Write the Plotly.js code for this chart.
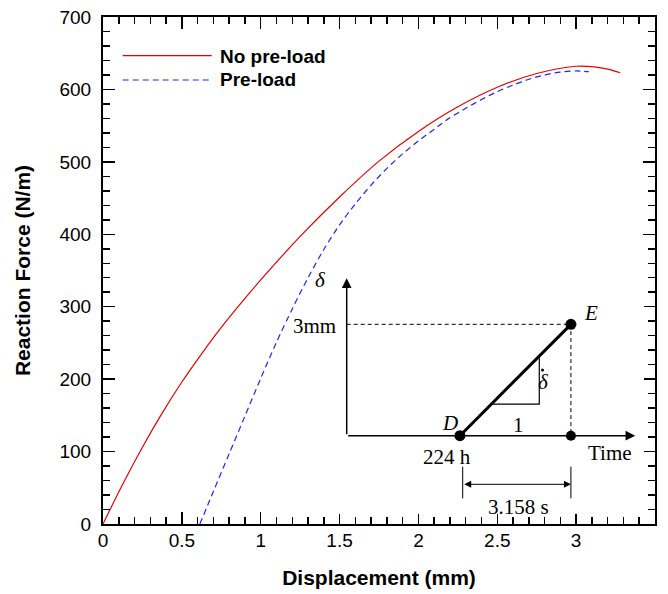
<!DOCTYPE html>
<html>
<head>
<meta charset="utf-8">
<script src="https://cdn.plot.ly/plotly-3.0.1.min.js"></script>
<style>html,body{margin:0;padding:0;background:#fff;}#chart{width:668px;height:594px;}</style>
</head>
<body>
<div id="chart"></div>
<script>
// ---- main chart data ----
const seriesNames = ["No pre-load", "Pre-load"];
const noPreloadX = [0,0.125,0.25,0.375,0.5,0.625,0.75,0.875,1.0,1.25,1.5,1.75,2.0,2.25,2.5,2.75,3.0,3.1,3.2,3.28];
const noPreloadY = [0,55,106,153,196,235,271.5,305,337,397,451.5,501,542,576,603,622,632,631.5,628,623];
const preloadX = [0.614,0.7,0.8,0.9,1.0,1.1,1.2,1.3,1.4,1.5,1.6,1.7,1.8,1.9,2.0,2.1,2.2,2.3,2.4,2.5,2.6,2.7,2.8,2.9,3.0,3.08];
const preloadY = [0,45,97,149,201,251,297,340,379,413,442,468,491,511,529,545,561,574,586,597,606,614,620,624,625.5,624.5];
const xTickVals = [0,0.5,1,1.5,2,2.5,3,3.5];
const yTickVals = [0,100,200,300,400,500,600,700];

// ---- inset schematic data (own axes: time units, delta in mm) ----
const insetDE_T = [1.02, 2.02];      // D, E times
const insetDE_D = [0, 3];            // delta at D, E (mm)
const insetFoot_T = [2.02];          // point below E
const insetFoot_D = [0];
const insetSlopeT = [1.303, 1.735, 1.735];
const insetSlopeD = [0.85, 0.85, 2.145];
const insetDotT = [1.764], insetDotD = [1.769];   // dot of delta-dot
const insetAxisT = 2.6, insetAxisD = 4.24;
const insetDimY = -1.309, insetDimY0 = -0.835, insetDimY1 = -1.686, insetDimT0 = 1.045;
const insetLabels = [
  {t:-0.24, d:4.2, text:"δ", italic:true, anchor:"center"},
  {t:-0.076, d:2.95, text:"3mm", italic:false, anchor:"right"},
  {t:0.93, d:0.334, text:"D", italic:true, anchor:"center"},
  {t:0.90, d:-0.566, text:"224 h", italic:false, anchor:"center"},
  {t:2.198, d:3.297, text:"E", italic:true, anchor:"center"},
  {t:1.777, d:1.45, text:"δ", italic:true, anchor:"center"},
  {t:1.546, d:0.288, text:"1", italic:false, anchor:"center"},
  {t:2.372, d:-0.474, text:"Time", italic:false, anchor:"center"},
  {t:1.546, d:-1.912, text:"3.158 s", italic:false, anchor:"center"}
];

const sans = "Liberation Sans, Arial, sans-serif";
const serif = "Liberation Serif, Times New Roman, serif";
const seriesColors = ["#e60000", "#2222ff"];

const traces = [
  {x: noPreloadX, y: noPreloadY, name: seriesNames[0], type: "scatter", mode: "lines",
   line: {color: seriesColors[0], width: 1.2, shape: "spline", smoothing: 1}, showlegend: false, xaxis: "x", yaxis: "y"},
  {x: preloadX, y: preloadY, name: seriesNames[1], type: "scatter", mode: "lines",
   line: {color: seriesColors[1], width: 1.2, dash: "6px,4px", shape: "spline", smoothing: 0.8}, showlegend: false, xaxis: "x", yaxis: "y"},
  // inset
  {x: insetSlopeT, y: insetSlopeD, mode: "lines", line: {color: "black", width: 1.2},
   xaxis: "x2", yaxis: "y2", showlegend: false, hoverinfo: "skip"},
  {x: [0, insetDE_T[1], insetDE_T[1]], y: [insetDE_D[1], insetDE_D[1], insetFoot_D[0]], mode: "lines",
   line: {color: "black", width: 1, dash: "4px,3px"}, xaxis: "x2", yaxis: "y2", showlegend: false, hoverinfo: "skip"},
  {x: insetDE_T, y: insetDE_D, mode: "lines+markers", line: {color: "black", width: 3},
   marker: {color: "black", size: 11}, xaxis: "x2", yaxis: "y2", showlegend: false, hoverinfo: "skip"},
  {x: insetFoot_T, y: insetFoot_D, mode: "markers", marker: {color: "black", size: 10},
   xaxis: "x2", yaxis: "y2", showlegend: false, hoverinfo: "skip"},
  {x: insetDotT, y: insetDotD, mode: "markers", marker: {color: "black", size: 3},
   xaxis: "x2", yaxis: "y2", showlegend: false, hoverinfo: "skip"}
];

const shapes = [
  // inset extension lines
  {type: "line", xref: "x2", yref: "y2", x0: insetDimT0, x1: insetDimT0, y0: insetDimY0, y1: insetDimY1, line: {color: "black", width: 1}},
  {type: "line", xref: "x2", yref: "y2", x0: insetDE_T[1], x1: insetDE_T[1], y0: insetDimY0, y1: insetDimY1, line: {color: "black", width: 1}},
  // legend lines
  {type: "line", xref: "paper", yref: "paper", x0: 0.0357, x1: 0.1969, y0: 0.9237, y1: 0.9237, line: {color: seriesColors[0], width: 1.2}},
  {type: "line", xref: "paper", yref: "paper", x0: 0.0357, x1: 0.1969, y0: 0.8757, y1: 0.8757, line: {color: seriesColors[1], width: 1.2, dash: "6px,4px"}}
];

const annotations = [
  // inset axes arrows
  {xref: "x2", yref: "y2", axref: "x2", ayref: "y2", x: 0, y: insetAxisD, ax: 0, ay: 0, text: "", showarrow: true,
   arrowhead: 2, arrowsize: 1.3, arrowwidth: 1.5, arrowcolor: "black", standoff: 0, startstandoff: 0},
  {xref: "x2", yref: "y2", axref: "x2", ayref: "y2", x: insetAxisT, y: 0, ax: 0, ay: 0, text: "", showarrow: true,
   arrowhead: 2, arrowsize: 1.3, arrowwidth: 1.5, arrowcolor: "black", standoff: 0, startstandoff: 0},
  // dimension arrow
  {xref: "x2", yref: "y2", axref: "x2", ayref: "y2", x: insetDE_T[1], y: insetDimY, ax: insetDimT0, ay: insetDimY, text: "", showarrow: true,
   arrowhead: 2, startarrowhead: 2, arrowside: "end+start", arrowsize: 1.4, startarrowsize: 1.4, arrowwidth: 1, arrowcolor: "black", standoff: 0, startstandoff: 0},
  // legend text
  {xref: "paper", yref: "paper", x: 0.2089, y: 0.9217, xanchor: "left", yanchor: "middle", showarrow: false,
   text: "<b>" + seriesNames[0] + "</b>", font: {family: sans, size: 19, color: "black"}},
  {xref: "paper", yref: "paper", x: 0.2089, y: 0.8770, xanchor: "left", yanchor: "middle", showarrow: false,
   text: "<b>" + seriesNames[1] + "</b>", font: {family: sans, size: 19, color: "black"}}
];
insetLabels.forEach(l => annotations.push({
  xref: "x2", yref: "y2", x: l.t, y: l.d, xanchor: l.anchor, yanchor: "middle", showarrow: false,
  text: l.italic ? "<i>" + l.text + "</i>" : l.text, font: {family: serif, size: 21, color: "black"}
}));

const axisCommon = {
  showgrid: false, zeroline: false, showline: true, linecolor: "black", linewidth: 2,
  ticks: "inside", ticklen: 12, tickwidth: 1.5, tickcolor: "black", mirror: "allticks",
  tickfont: {family: sans, size: 19, color: "black"}
};

const layout = {
  width: 668, height: 594,
  margin: {l: 103, r: 13, t: 17, b: 70, pad: 0},
  paper_bgcolor: "white", plot_bgcolor: "white",
  showlegend: false,
  xaxis: Object.assign({}, axisCommon, {
    range: [0, 3.5], tickvals: xTickVals, ticktext: xTickVals.map(String), ticklabelstandoff: -2,
    minor: {dtick: 0.1, tick0: 0, ticks: "inside", ticklen: 7, tickwidth: 1.5, tickcolor: "black"},
    title: {text: "<b>Displacement (mm)</b>", font: {family: sans, size: 21, color: "black"}, standoff: 21}
  }),
  yaxis: Object.assign({}, axisCommon, {
    range: [0, 700], tickvals: yTickVals, ticktext: yTickVals.map(String), ticklabelstandoff: 6,
    minor: {dtick: 20, tick0: 0, ticks: "inside", ticklen: 7, tickwidth: 1.5, tickcolor: "black"},
    title: {text: "<b>Reaction Force (N/m)</b>", font: {family: sans, size: 21, color: "black"}, standoff: 23}
  }),
  xaxis2: {domain: [0.38, 0.98], range: [-0.3058, 2.678], anchor: "y2", visible: false, fixedrange: true},
  yaxis2: {domain: [0.02, 0.49], range: [-2.105, 4.313], anchor: "x2", visible: false, fixedrange: true},
  shapes: shapes,
  annotations: annotations
};

Plotly.newPlot("chart", traces, layout, {displayModeBar: false, staticPlot: true});
</script>
</body>
</html>
